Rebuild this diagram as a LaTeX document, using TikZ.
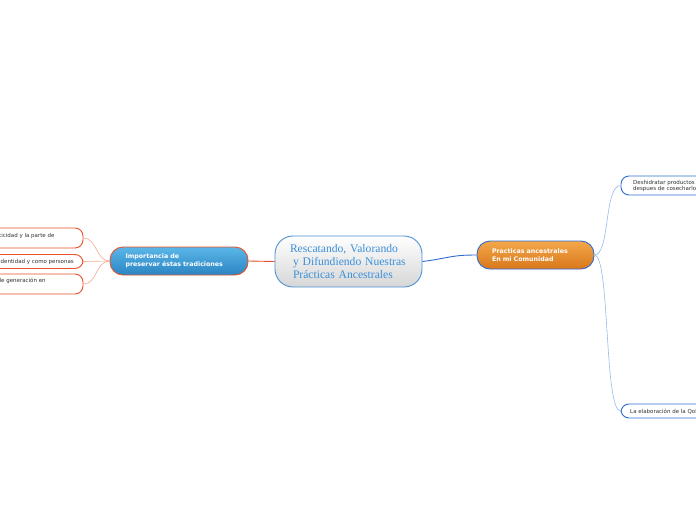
\documentclass[tikz,border=0pt]{standalone}
\usepackage{fontspec}
\newfontfamily\serifc{Liberation Serif}
\newfontfamily\sansv{DejaVu Sans}
\definecolor{orangeB}{HTML}{E8522A}
\definecolor{orangeL}{HTML}{F5A98E}
\definecolor{blueB}{HTML}{2F6CD2}
\definecolor{blueL}{HTML}{94BEEA}
\definecolor{centB}{HTML}{4B93D6}
\definecolor{centT}{HTML}{3A90DA}
\definecolor{lmTop}{HTML}{5BB6E8}
\definecolor{lmBot}{HTML}{2A84C2}
\definecolor{rmTop}{HTML}{F3A84A}
\definecolor{rmBot}{HTML}{D9771C}
\definecolor{leafT}{HTML}{333333}
\begin{document}
\begin{tikzpicture}[x=1pt,y=-1pt,
  central/.style={draw=centB, line width=0.9pt, rounded corners=18pt, top color=white, bottom color=black!16,
    minimum width=147pt, minimum height=51pt, text width=135pt, align=left, inner sep=0pt,
    font=\serifc\fontsize{11.6}{13.3}\selectfont, text=centT},
  mainbox/.style={draw=#1, line width=0.9pt, rounded corners=13pt, minimum height=28pt, inner sep=0pt,
    align=left, text=white, font=\sansv\bfseries\fontsize{6.3}{8}\selectfont},
  leafbox/.style={draw=#1, line width=0.9pt, fill=white, rounded corners=8pt, inner sep=0pt},
  leaftext/.style={anchor=west, inner sep=0pt, align=left, text=leafT, font=\sansv\fontsize{5.5}{6.8}\selectfont},
  olight/.style={draw=orangeL, line width=0.6pt},
  blight/.style={draw=blueL, line width=0.6pt}]
\useasboundingbox (0,0) rectangle (696,520);
\clip (0,0) rectangle (696,520);
\fill[white] (0,0) rectangle (696,520);

% central
\node[central] (c) at (348.5,261.5) {\hspace*{9pt}Rescatando, Valorando\\\hspace*{12pt}y Difundiendo Nuestras\\\hspace*{12pt}Prácticas Ancestrales};

% main boxes
\node[mainbox=orangeB, top color=lmTop, bottom color=lmBot, minimum width=138pt, text width=107pt] (l) at (179,261)
  {Importancia de\\preservar éstas tradiciones};
\node[mainbox=blueB, top color=rmTop, bottom color=rmBot, minimum width=117pt, text width=87pt] (r) at (535.5,255)
  {Practicas ancestrales\\En mi Comunidad};

% left leaves
\node[leafbox=orangeB, minimum width=123pt, minimum height=20pt] (l1) at (21.5,238) {};
\node[leafbox=orangeB, minimum width=123pt, minimum height=14pt] (l2) at (21.5,261.5) {};
\node[leafbox=orangeB, minimum width=123pt, minimum height=20pt] (l3) at (21.5,284) {};
\node[leaftext] (t1) at (-1,236) {ticidad y la parte de};
\node[leaftext] (t2) at (-1,262) {identidad y como personas};
\node[leaftext] (t3) at (-2.5,281) {de generación en};

% right leaves
\node[leafbox=blueB, minimum width=109pt, minimum height=19pt] (r1) at (675.5,185.5) {};
\node[leafbox=blueB, minimum width=109pt, minimum height=14pt] (r2) at (675.5,411) {};
\node[leaftext] (u1) at (633,186) {Deshidratar productos\\despues de cosecharlos};
\node[leaftext] (u2) at (630,411.5) {La elaboración de la Qolla};

% connectors
\draw[draw=orangeB, line width=0.9pt] (l.east) -- (c.west);
\draw[draw=blueB, line width=0.9pt] (c.east) .. controls (450,258) and (450,255) .. (r.west);
\draw[olight] (l.west) .. controls (96,261) and (97,238) .. (l1.east);
\draw[olight] (l.west) .. controls (96,261) and (97,261.5) .. (l2.east);
\draw[olight] (l.west) .. controls (96,261) and (97,284) .. (l3.east);
\draw[blight] (r.east) .. controls (610,255) and (604,185.5) .. (r1.west);
\draw[blight] (r.east) .. controls (610,255) and (604,411) .. (r2.west);
\end{tikzpicture}
\end{document}
